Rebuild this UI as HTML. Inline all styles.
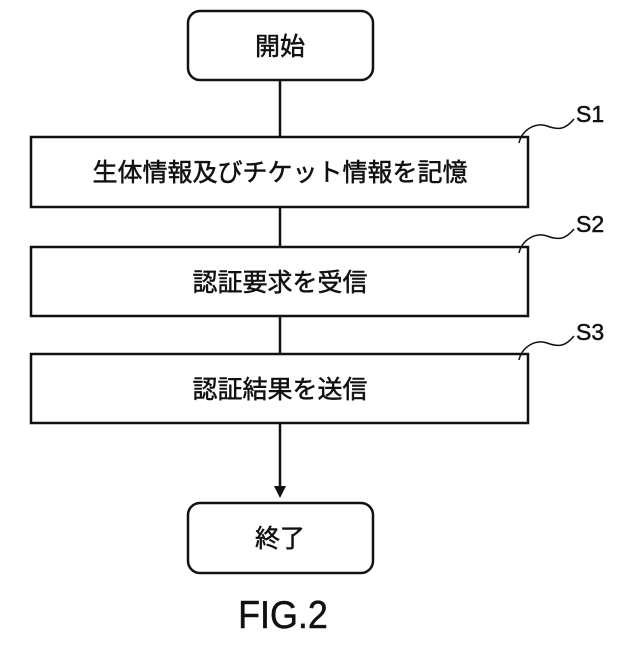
<!DOCTYPE html>
<html><head><meta charset="utf-8"><style>
body{margin:0;background:#fff}
svg text{font-family:"Liberation Sans","Noto Sans CJK JP",sans-serif;fill:#111;stroke:#111;stroke-width:0.5}
</style></head><body>
<svg width="640" height="640" viewBox="0 0 640 640" xmlns="http://www.w3.org/2000/svg">
<g stroke="#111" stroke-width="2.5" fill="none">
<rect x="188" y="11" width="185" height="69" rx="12"/>
<rect x="31" y="137" width="497" height="70"/>
<rect x="31" y="247" width="497" height="69"/>
<rect x="31" y="354" width="497" height="69"/>
<rect x="188" y="503" width="185" height="70" rx="12"/>
<line x1="280" y1="80" x2="280" y2="137"/>
<line x1="280" y1="207" x2="280" y2="247"/>
<line x1="280" y1="316" x2="280" y2="354"/>
<line x1="280" y1="423" x2="280" y2="488"/>
</g>
<polygon points="274,486 286,486 280,498" fill="#111"/>
<g stroke="#111" stroke-width="1.5" fill="none">
<path d="M519,143 C522,130 535,122 547,126 C558,130 565,130 574,119"/>
<path d="M519,253 C522,240 535,232 547,236 C558,240 565,240 574,229"/>
<path d="M519,360 C522,347 535,339 547,343 C558,347 565,347 574,336"/>
</g>
<g font-size="25" text-anchor="middle">
<text x="280" y="55">開始</text>
<text x="280" y="181">生体情報及びチケット情報を記憶</text>
<text x="280" y="291">認証要求を受信</text>
<text x="280" y="398">認証結果を送信</text>
<text x="280" y="547">終了</text>
</g>
<g font-size="23">
<text x="576" y="122">S1</text>
<text x="576" y="232">S2</text>
<text x="576" y="340">S3</text>
</g>
<text x="283" y="628" font-size="39" text-anchor="middle" transform="translate(22.6 0) scale(0.92 1)">FIG.2</text>
</svg>
</body></html>
